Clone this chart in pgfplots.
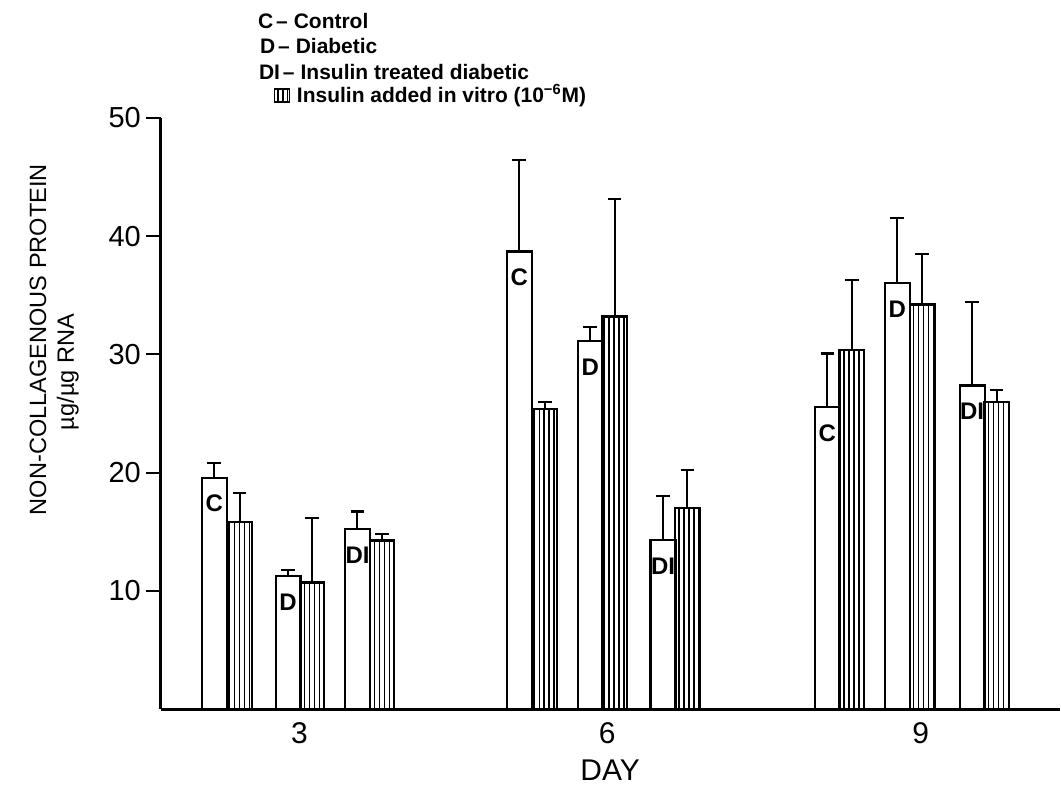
\documentclass[border=0pt]{standalone}
\usepackage{fontspec}
\setmainfont{Liberation Sans}
\usepackage{pgfplots}
\pgfplotsset{compat=1.18}
\usepackage{pgfplotstable}
\usetikzlibrary{patterns.meta}

% x: bar centre position along the day axis, y: mean, e: upper error
\pgfplotstableread{
x      y      e
214.5  19.57  1.27
520.0  38.70  7.75
828.5  25.54  4.53
}\Copen
\pgfplotstableread{
x      y      e
240.0  15.82  2.42
545.5  25.40  0.57
853.0  30.38  5.94
}\Chatch
\pgfplotstableread{
x      y      e
288.5  11.26  0.48
591.0  31.10  1.22
898.5  36.04  5.50
}\Dopen
\pgfplotstableread{
x      y      e
312.5  10.70  5.49
615.5  33.20  9.92
923.5  34.21  4.30
}\Dhatch
\pgfplotstableread{
x      y      e
358.0  15.20  1.50
664.0  14.30  3.69
973.5  27.37  7.06
}\DIopen
\pgfplotstableread{
x      y      e
382.5  14.25  0.56
688.3  17.00  3.23
998.0  25.99  0.99
}\DIhatch

\newcommand{\fs}[1]{\fontsize{#1}{1.2\dimexpr#1\relax}\selectfont}
\newcommand{\dash}{\hspace{1.5bp}–\hspace{3bp}}

\begin{document}
\begin{tikzpicture}
\begin{axis}[
  scale only axis,
  width=450bp, height=296bp,
  xmin=161, xmax=1061,
  ymin=0, ymax=50,
  clip=false,
  axis x line*=bottom,
  axis y line*=left,
  axis line style={line width=1.5bp, black},
  ytick={10,20,30,40,50},
  tick align=outside,
  major tick length=7.5bp,
  ytick style={line width=1bp, black},
  xtick={300,608,922},
  xticklabels={3,6,9},
  xtick style={draw=none},
  /pgf/number format/assume math mode=true,
  yticklabel style={font=\fs{14.5bp}, anchor=east, xshift=1bp},
  xticklabel style={font=\fs{15bp}, anchor=base, yshift=-10bp},
  every axis plot/.append style={ybar, bar shift=0},
  openbar/.style={fill=white, draw=black, line width=1.1bp, bar width=25},
  hatchbar/.style={draw=black, line width=1.1bp, bar width=24.5,
    pattern={Lines[angle=90, distance=2.5bp, line width=0.75bp]}},
  errs/.style={error bars/.cd, y dir=plus, y explicit,
    error bar style={line width=1bp, black},
    error mark options={rotate=90, line width=1.1bp, mark size=3.4bp, black}},
]
% page extent
\path (axis cs:0,-6.17) rectangle (axis cs:1061,59.97);

\addplot[openbar,  errs] table[x=x, y=y, y error=e] {\Copen};
\addplot[hatchbar, errs] table[x=x, y=y, y error=e] {\Chatch};
\addplot[openbar,  errs] table[x=x, y=y, y error=e] {\Dopen};
\addplot[hatchbar, errs] table[x=x, y=y, y error=e] {\Dhatch};
\addplot[openbar,  errs] table[x=x, y=y, y error=e] {\DIopen};
\addplot[hatchbar, errs] table[x=x, y=y, y error=e] {\DIhatch};

% group letters inside the open bars
\begin{scope}[every node/.style={font=\bfseries\fs{12bp}, yshift=-13bp, inner sep=0pt}]
\node at (axis cs:214.5,19.57) {C};
\node at (axis cs:520.0,38.70) {C};
\node at (axis cs:828.5,25.54) {C};
\node at (axis cs:288.5,11.26) {D};
\node at (axis cs:591.0,31.10) {D};
\node at (axis cs:898.5,36.04) {D};
\node at (axis cs:358.0,15.20) {DI};
\node at (axis cs:664.0,14.30) {DI};
\node at (axis cs:973.5,27.37) {DI};
\end{scope}

% key
\begin{scope}[every node/.style={font=\bfseries\fs{10.5bp}, anchor=west, inner sep=0pt}]
\node at (axis cs:258,58.19) {C\dash Control};
\node at (axis cs:260,56.08) {D\dash Diabetic};
\node at (axis cs:259,53.84) {DI\dash Insulin treated diabetic};
\draw[line width=0.8bp, pattern={Lines[angle=90, distance=2.4bp, line width=0.7bp]}]
  (axis cs:275,51.35) rectangle (axis cs:290,52.45);
\node at (axis cs:297,51.86) {Insulin added in vitro (10\textsuperscript{−6}M)};
\end{scope}

% axis titles
\node[rotate=90, font=\fs{11.8bp}] at (axis cs:38,31.25) {NON-COLLAGENOUS PROTEIN};
\node[rotate=90, font=\fs{11.8bp}] at (axis cs:68,28.5) {µg/µg RNA};
\node[font=\fs{15bp}] at (axis cs:611,-5.15) {DAY};
\end{axis}
\end{tikzpicture}
\end{document}
